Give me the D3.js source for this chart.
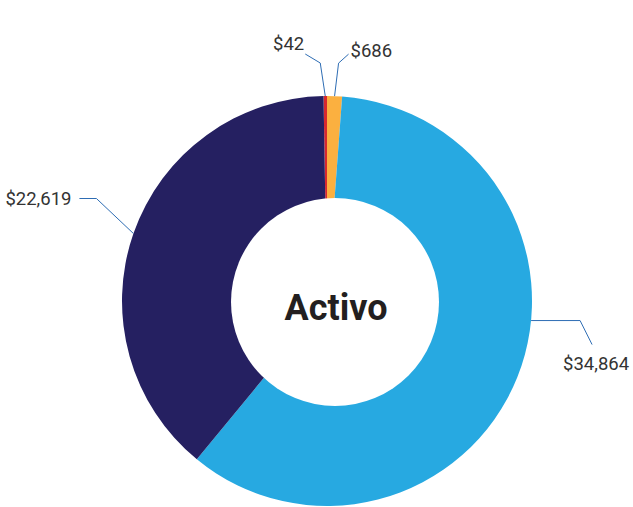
<!DOCTYPE html>
<html>
  <head>
    <meta charset="utf-8">
    <script src="https://d3js.org/d3.v7.min.js"></script>
    <style>
      body { margin: 0; background: #fff; }
      text { font-family: Roboto, "Liberation Sans", sans-serif; }
    </style>
  </head>
  <body>
    <script type="text/javascript">
      "use strict";

      // slice data, clockwise from the top
      var categories = ["a", "b", "c", "d"];
      var values = [42, 686, 34864, 22619];
      var labels = ["$42", "$686", "$34,864", "$22,619"];
      var colors = ["#d7282f", "#fbb040", "#27a9e1", "#252061"];

      var width = 633, height = 507,
          cx = 327, cy = 301,
          outerR = 205;

      var svg = d3.select("body").append("svg")
        .attr("width", width)
        .attr("height", height);

      var total = d3.sum(values);
      // tiny slice gets a minimum visible width, as in the original
      var minShare = 0.0027;
      var pie = d3.pie()
        .sort(null)
        .value(function (d) { return Math.max(d, total * minShare); })
        .startAngle(-2 * Math.PI * minShare)
        .endAngle(2 * Math.PI * (1 - minShare));

      var arcs = pie(values);
      var arc = d3.arc().innerRadius(0).outerRadius(outerR);

      var g = svg.append("g").attr("transform", "translate(" + cx + "," + cy + ")");

      g.selectAll("path.slice")
        .data(arcs)
        .enter().append("path")
          .attr("class", "slice")
          .attr("d", arc)
          .attr("fill", function (d, i) { return colors[i]; });

      // the hole (sits slightly right of the pie centre in the original)
      g.append("circle")
        .attr("cx", 8)
        .attr("cy", 1)
        .attr("r", 104)
        .attr("fill", "#fff");

      g.append("text")
        .attr("x", 9)
        .attr("y", 7)
        .attr("text-anchor", "middle")
        .attr("dominant-baseline", "central")
        .style("font-size", "36px")
        .style("font-weight", "bold")
        .style("fill", "#231f20")
        .text("Activo");

      // leader layout: where on the slice the line starts, elbow offsets, label place
      var leaders = [
        { at: 0.5,   e1: [-5, -33], e2: [-15, -9], tx: -1, ty: -4, anchor: "end" },
        { at: 0.5,   e1: [4, -33],  e2: [10, -9],  tx: 2,  ty: 3,  anchor: "start" },
        { at: 0.424, e1: [49, 0],   e2: [12, 24],  tx: 4,  ty: 25, anchor: "middle" },
        { at: 0.5,   e1: [-37, -35], e2: [-17, 0], tx: -8, ty: 6,  anchor: "end" }
      ];

      arcs.forEach(function (d, i) {
        var L = leaders[i];
        var a = d.startAngle + (d.endAngle - d.startAngle) * L.at;
        var p0 = [outerR * Math.sin(a), -outerR * Math.cos(a)];
        var p1 = [p0[0] + L.e1[0], p0[1] + L.e1[1]];
        var p2 = [p1[0] + L.e2[0], p1[1] + L.e2[1]];

        g.append("polyline")
          .attr("points", [p0, p1, p2].map(function (p) { return p.join(","); }).join(" "))
          .attr("fill", "none")
          .attr("stroke", "#2e6db4")
          .attr("stroke-width", 1);

        g.append("text")
          .attr("x", p2[0] + L.tx)
          .attr("y", p2[1] + L.ty)
          .attr("text-anchor", L.anchor)
          .style("font-size", "18.5px")
          .style("fill", "#333")
          .text(labels[i]);
      });
    </script>
  </body>
</html>
